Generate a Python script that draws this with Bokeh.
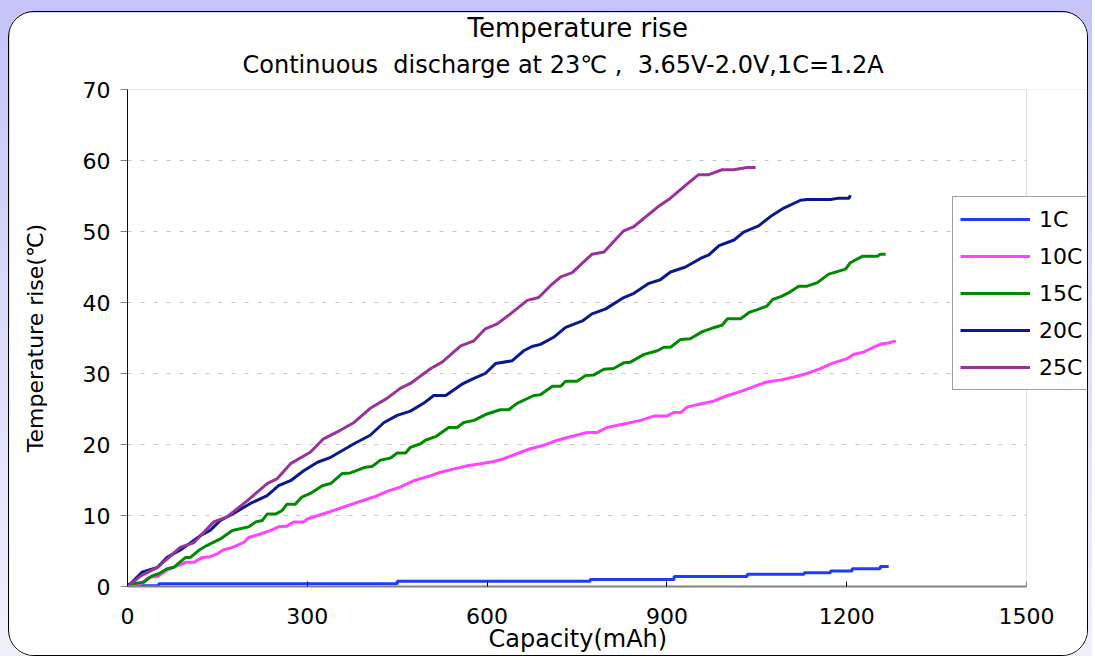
from bokeh.plotting import figure
from bokeh.models import Title, Legend, LegendItem, Range1d, BoxAnnotation, Span
from bokeh.layouts import column
from bokeh.embed import file_html
from bokeh.resources import INLINE

# ---------------- data ----------------
x_ticks = [0, 300, 600, 900, 1200, 1500]
y_ticks = [0, 10, 20, 30, 40, 50, 60, 70]
series_names = ["1C", "10C", "15C", "20C", "25C"]

cap_1c = [0, 52, 450, 772, 912, 1034, 1129, 1173, 1209, 1256, 1270]
temp_1c = [0.1, 0.4, 0.75, 1.0, 1.4, 1.73, 1.93, 2.2, 2.5, 2.8, 2.8]

cap_10c = [0, 22, 36, 50, 66, 77, 97, 111, 125, 138, 150, 161, 175, 194, 202, 222, 239, 252, 266, 278,
           294, 300, 322, 344, 367, 389, 411, 433, 455, 478, 489, 506, 522, 547, 567, 589, 611, 628, 650, 672,
           695, 717, 739, 767, 784, 800, 834, 856, 878, 900, 911, 923, 934, 956, 978, 1001, 1017, 1034, 1056, 1067,
           1090, 1112, 1134, 1156, 1178, 1201, 1212, 1228, 1245, 1259, 1270, 1282]
temp_10c = [0.1, 0.4, 1.3, 1.4, 2.3, 2.7, 3.4, 3.4, 4.1, 4.2, 4.6, 5.2, 5.5, 6.2, 6.9, 7.4, 7.9, 8.4, 8.5, 9.1,
            9.1, 9.5, 10.1, 10.7, 11.4, 12.0, 12.6, 13.4, 14.0, 14.9, 15.2, 15.6, 16.1, 16.6, 17.0, 17.3, 17.6, 18.0, 18.7, 19.4,
            19.9, 20.6, 21.1, 21.7, 21.7, 22.4, 23.0, 23.4, 24.0, 24.0, 24.5, 24.5, 25.3, 25.7, 26.1, 26.9, 27.3, 27.8, 28.5, 28.8,
            29.1, 29.5, 30.0, 30.7, 31.5, 32.1, 32.7, 33.0, 33.7, 34.2, 34.3, 34.6]

cap_15c = [0, 27, 41, 52, 66, 77, 97, 105, 119, 133, 155, 175, 186, 202, 214, 225, 233, 247, 258, 266,
           280, 291, 305, 325, 339, 358, 372, 397, 408, 422, 439, 450, 464, 472, 489, 497, 514, 536, 550, 561,
           578, 600, 622, 636, 650, 678, 689, 709, 723, 731, 750, 764, 778, 795, 811, 828, 839, 862, 884, 895,
           906, 923, 939, 959, 976, 992, 1001, 1023, 1037, 1051, 1067, 1076, 1092, 1106, 1120, 1134, 1151, 1170, 1198, 1206,
           1226, 1251, 1256, 1265]
temp_15c = [0.3, 0.6, 1.5, 1.8, 2.5, 2.7, 4.1, 4.1, 5.1, 5.8, 6.7, 7.9, 8.1, 8.4, 9.1, 9.3, 10.2, 10.2, 10.7, 11.6,
            11.6, 12.6, 13.1, 14.2, 14.5, 15.9, 16.0, 16.8, 16.9, 17.8, 18.1, 18.8, 18.8, 19.6, 20.1, 20.6, 21.1, 22.4, 22.4, 23.1,
            23.4, 24.3, 24.9, 24.9, 25.8, 26.9, 27.0, 28.2, 28.2, 28.9, 28.9, 29.7, 29.8, 30.6, 30.7, 31.5, 31.6, 32.7, 33.2, 33.7,
            33.7, 34.8, 34.9, 35.9, 36.4, 36.8, 37.7, 37.7, 38.6, 39.0, 39.5, 40.4, 40.9, 41.5, 42.3, 42.3, 42.8, 44.0, 44.7, 45.6,
            46.5, 46.5, 46.8, 46.8]

cap_20c = [0, 24, 50, 66, 91, 122, 138, 155, 177, 205, 233, 252, 272, 294, 317, 339, 378, 405, 428, 450,
           472, 494, 511, 531, 558, 578, 597, 614, 642, 661, 675, 689, 711, 731, 759, 775, 798, 828, 845, 870,
           889, 906, 931, 956, 970, 987, 1012, 1028, 1053, 1076, 1095, 1123, 1134, 1173, 1187, 1204, 1206]
temp_20c = [0, 2.0, 2.7, 4.1, 5.3, 7.2, 7.9, 9.3, 10.3, 11.7, 12.8, 14.2, 14.9, 16.3, 17.5, 18.2, 20.1, 21.3, 23.1, 24.1,
            24.7, 25.8, 26.9, 26.9, 28.5, 29.3, 30.0, 31.4, 31.8, 33.2, 33.8, 34.1, 35.1, 36.5, 37.4, 38.4, 39.1, 40.7, 41.3, 42.7,
            43.2, 44.3, 45.0, 46.2, 46.7, 48.0, 48.8, 49.9, 50.8, 52.3, 53.3, 54.4, 54.5, 54.5, 54.7, 54.7, 55.1]

cap_25c = [0, 22, 50, 88, 111, 144, 166, 200, 233, 250, 272, 305, 327, 355, 378, 405, 433, 455, 472, 506,
           525, 556, 578, 597, 617, 639, 667, 686, 706, 723, 742, 775, 795, 828, 845, 884, 903, 934, 953, 970,
           992, 1011, 1034, 1048]
temp_25c = [0, 1.5, 2.7, 5.5, 6.2, 9.1, 9.8, 12.1, 14.5, 15.2, 17.3, 18.9, 20.8, 22.0, 23.1, 25.1, 26.5, 27.9, 28.6, 30.7,
            31.6, 33.9, 34.6, 36.3, 37.0, 38.4, 40.3, 40.7, 42.4, 43.6, 44.2, 46.8, 47.1, 50.1, 50.7, 53.4, 54.5, 56.7, 58.0, 58.0,
            58.7, 58.7, 59.0, 59.0]

x_max = 1500
y_max = 70
colors = ["#1E3CFF", "#FF44FF", "#008A00", "#0A1A8C", "#993399"]

FONT = "DejaVu Sans"
W, H = 1080, 645
FRAME_LEFT, FRAME_TOP, FRAME_BOTTOM = 118, 77, 574
AXIS_RIGHT_PX = 1017  # pixel where x = 1500 sits
px_per_unit = (AXIS_RIGHT_PX - FRAME_LEFT) / x_max
x_end = x_max + (W - AXIS_RIGHT_PX) / px_per_unit  # frame extends under the legend

# ---------------- figure ----------------
p = figure(width=W, height=H, output_backend="svg", toolbar_location=None,
           title=None,
           x_range=Range1d(0, x_end), y_range=Range1d(0, y_max),
           min_border_left=FRAME_LEFT, min_border_right=0,
           min_border_top=FRAME_TOP, min_border_bottom=H - FRAME_BOTTOM)

p.border_fill_color = "white"
p.background_fill_color = "white"
p.outline_line_color = None
p.styles = {"border": "1px solid black", "border-radius": "26px", "overflow": "hidden"}

t2 = Title(text="Continuous\u00a0\u00a0discharge at 23\u2103 ,\u00a0\u00a03.65V-2.0V,1C=1.2A", align="left",
           text_font=FONT, text_font_size="24px", text_font_style="normal", text_color="black",
           standoff=22, offset=115)
t1 = Title(text="Temperature rise", align="left",
           text_font=FONT, text_font_size="26px", text_font_style="normal", text_color="black",
           standoff=-10, offset=340)
p.add_layout(t2, "above")
p.add_layout(t1, "above")

# grid
p.xgrid.grid_line_color = None
p.ygrid.grid_line_color = "#C8C8C8"
p.ygrid.grid_line_dash = "4 9"
p.ygrid.grid_line_width = 1

# axes
p.xaxis.ticker = x_ticks
p.yaxis.ticker = y_ticks
for ax in (p.xaxis, p.yaxis):
    ax.major_label_text_font = FONT
    ax.major_label_text_font_size = "22px"
    ax.major_label_text_color = "black"
    ax.axis_label_text_font = FONT
    ax.axis_label_text_font_size = "22px"
    ax.axis_label_text_font_style = "normal"
    ax.axis_label_text_color = "black"
    ax.minor_tick_line_color = None

p.xaxis.bounds = (0, x_max)
p.xaxis.axis_line_color = "#808080"
p.xaxis.axis_line_width = 2
p.xaxis.major_tick_in = 5
p.xaxis.major_tick_out = 0
p.xaxis.major_tick_line_color = "black"
p.xaxis.major_label_standoff = 21

xlabel = Title(text="Capacity(mAh)", align="left",
               text_font=FONT, text_font_size="24px", text_font_style="normal", text_color="black",
               standoff=-7, offset=361)
p.add_layout(xlabel, "below")

p.yaxis.axis_label = "Temperature rise(\u2103)"
p.yaxis.axis_line_color = "black"
p.yaxis.axis_line_width = 1
p.yaxis.major_tick_in = 0
p.yaxis.major_tick_out = 7
p.yaxis.major_tick_line_color = "#808080"
p.yaxis.major_label_standoff = 10
p.yaxis.axis_label_standoff = 32

# blank area beyond x = 1500, then the plot-area border (grey), left edge black
p.add_layout(BoxAnnotation(left=x_max, right=x_end, fill_color="white", fill_alpha=1.0, line_color=None))
p.add_layout(BoxAnnotation(left=0, right=x_max, bottom=0, top=y_max, fill_alpha=0.0,
                           line_color="#A0A0A0", line_width=1))
p.add_layout(Span(location=0, dimension="height", line_color="black", line_width=1))

# series
r1 = p.step(cap_1c, temp_1c, mode="after", line_color=colors[0], line_width=3)
r10 = p.line(cap_10c, temp_10c, line_color=colors[1], line_width=3)
r15 = p.line(cap_15c, temp_15c, line_color=colors[2], line_width=3)
r20 = p.line(cap_20c, temp_20c, line_color=colors[3], line_width=3)
r25 = p.line(cap_25c, temp_25c, line_color=colors[4], line_width=3)

legend = Legend(items=[LegendItem(label=n, renderers=[r]) for n, r in zip(series_names, [r1, r10, r15, r20, r25])],
                location=(825, 196),
                label_text_font=FONT, label_text_font_size="22px", label_text_color="black",
                glyph_width=70, glyph_height=30, label_height=30, label_standoff=9,
                spacing=7, padding=7, margin=0,
                border_line_color="#404040", border_line_width=1,
                background_fill_color="white", background_fill_alpha=1.0)
p.add_layout(legend)

page = column(p, styles={"background": "linear-gradient(to bottom, #C4C4F8 0%, #DCDCFA 50%, #F0F0FC 100%)",
                         "padding": "11px 4px 0px 8px"})

open("out.html", "w").write(file_html(page, INLINE))
